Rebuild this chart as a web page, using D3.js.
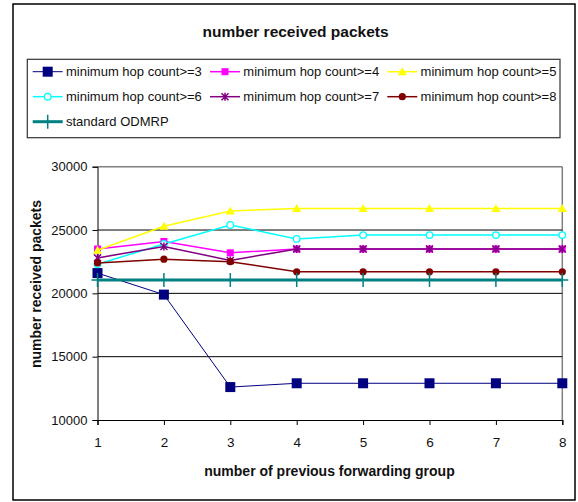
<!DOCTYPE html>
<html>
<head>
<meta charset="utf-8">
<script src="https://cdn.jsdelivr.net/npm/d3@7"></script>
<style>
  html, body { margin: 0; padding: 0; background: #fff; }
  svg { display: block; font-family: "Liberation Sans", Arial, sans-serif; }
</style>
</head>
<body>
<svg id="chart" width="578" height="502"></svg>
<script>
// ---- data ----
const xValues = [1, 2, 3, 4, 5, 6, 7, 8];
const yTicks = [10000, 15000, 20000, 25000, 30000];
const seriesNames = [
  "minimum hop count>=3", "minimum hop count>=4", "minimum hop count>=5",
  "minimum hop count>=6", "minimum hop count>=7", "minimum hop count>=8",
  "standard ODMRP"
];
const hop3 = [21600, 19900, 12600, 12900, 12900, 12900, 12900, 12900];
const hop4 = [23500, 24100, 23200, 23500, 23500, 23500, 23500, 23500];
const hop5 = [23400, 25300, 26500, 26700, 26700, 26700, 26700, 26700];
const hop6 = [22300, 23900, 25400, 24300, 24600, 24600, 24600, 24600];
const hop7 = [22800, 23700, 22600, 23500, 23500, 23500, 23500, 23500];
const hop8 = [22400, 22700, 22500, 21700, 21700, 21700, 21700, 21700];
const odmrp = [21050, 21050, 21050, 21050, 21050, 21050, 21050, 21050];
const titleText = "number received packets";
const xLabel = "number of previous forwarding group";
const yLabel = "number received packets";

// styles (kept separate from data)
const styles = [
  { color: "#000080", width: 1, marker: "bigsquare" },
  { color: "#FF00FF", width: 1.5, marker: "square" },
  { color: "#FFFF00", width: 1.5, marker: "triangle" },
  { color: "#00FFFF", width: 1.5, marker: "circle" },
  { color: "#800080", width: 1.5, marker: "star" },
  { color: "#800000", width: 1.5, marker: "dot" },
  { color: "#008080", width: 3, marker: "plus" }
];
const allValues = [hop3, hop4, hop5, hop6, hop7, hop8, odmrp];
const series = seriesNames.map((n, i) => ({ name: n, values: allValues[i], style: styles[i] }));

const svg = d3.select("#chart");

// outer frame
svg.append("rect").attr("x", 13).attr("y", 4).attr("width", 562).attr("height", 496)
  .attr("fill", "#fff").attr("stroke", "#000").attr("stroke-width", 1.5);

// title
svg.append("text").attr("x", 295.5).attr("y", 37).attr("text-anchor", "middle")
  .attr("font-weight", "bold").attr("font-size", "15.5px").attr("fill", "#111").text(titleText);

// scales
const pLeft = 97.5, pRight = 562.3, pTop = 166.7, pBottom = 420;
const x = d3.scaleLinear().domain([1, 8]).range([pLeft, pRight]);
const y = d3.scaleLinear().domain([10000, 30000]).range([pBottom, pTop]);

// plot border (gray top/right)
svg.append("line").attr("x1", pLeft).attr("x2", pRight).attr("y1", pTop).attr("y2", pTop)
  .attr("stroke", "#808080").attr("stroke-width", 1.5);
svg.append("line").attr("x1", pRight).attr("x2", pRight).attr("y1", pTop).attr("y2", pBottom)
  .attr("stroke", "#808080").attr("stroke-width", 1.5);

// gridlines
svg.append("g").selectAll("line").data(yTicks.filter(t => t > 10000 && t < 30000)).join("line")
  .attr("x1", pLeft).attr("x2", pRight).attr("y1", d => y(d)).attr("y2", d => y(d))
  .attr("stroke", "#000").attr("stroke-width", 1);

// axes
const yAxis = d3.axisLeft(y).tickValues(yTicks).tickSize(5).tickPadding(5).tickFormat(d3.format("d"));
const gy = svg.append("g").attr("transform", `translate(${pLeft},0)`).call(yAxis);
gy.selectAll("text").attr("font-size", "13px").attr("fill", "#111").attr("font-family", "Liberation Sans, Arial, sans-serif");
gy.select(".domain").attr("stroke", "#000");

const xAxis = d3.axisBottom(x).tickValues(xValues).tickSize(5).tickPadding(12).tickFormat(d3.format("d"));
const gx = svg.append("g").attr("transform", `translate(0,${pBottom})`).call(xAxis);
gx.selectAll("text").attr("font-size", "13.5px").attr("fill", "#111").attr("font-family", "Liberation Sans, Arial, sans-serif");
gx.select(".domain").attr("stroke", "#000").attr("stroke-width", 1.2);

// axis labels
svg.append("text").attr("x", 329.5).attr("y", 476).attr("text-anchor", "middle")
  .attr("font-weight", "bold").attr("font-size", "14px").attr("fill", "#111").text(xLabel);
svg.append("text").attr("transform", "translate(41,284) rotate(-90)").attr("text-anchor", "middle")
  .attr("font-weight", "bold").attr("font-size", "14px").attr("fill", "#111").text(yLabel);

// marker drawing
function drawMarker(g, type, color, cx, cy) {
  switch (type) {
    case "bigsquare":
      g.append("rect").attr("x", cx - 5).attr("y", cy - 5).attr("width", 10).attr("height", 10).attr("fill", color);
      break;
    case "square":
      g.append("rect").attr("x", cx - 3.5).attr("y", cy - 3.5).attr("width", 7).attr("height", 7).attr("fill", color);
      break;
    case "triangle":
      g.append("path").attr("d", `M${cx},${cy - 4.5}L${cx + 4.5},${cy + 3.5}L${cx - 4.5},${cy + 3.5}Z`).attr("fill", color);
      break;
    case "circle":
      g.append("circle").attr("cx", cx).attr("cy", cy).attr("r", 3.3).attr("fill", "#fff")
        .attr("stroke", color).attr("stroke-width", 1.3);
      break;
    case "star":
      g.append("path").attr("d", `M${cx - 3.5},${cy - 3.5}L${cx + 3.5},${cy + 3.5}M${cx + 3.5},${cy - 3.5}L${cx - 3.5},${cy + 3.5}M${cx},${cy - 4}L${cx},${cy + 4}`)
        .attr("stroke", color).attr("stroke-width", 1.5).attr("fill", "none");
      break;
    case "dot":
      g.append("circle").attr("cx", cx).attr("cy", cy).attr("r", 3.6).attr("fill", color);
      break;
    case "plus":
      g.append("path").attr("d", `M${cx - 6},${cy}L${cx + 6},${cy}M${cx},${cy - 7}L${cx},${cy + 7}`)
        .attr("stroke", color).attr("stroke-width", 1.5).attr("fill", "none");
      break;
  }
}

// series
const lineGen = d3.line().x((d, i) => x(xValues[i])).y(d => y(d));
series.forEach(s => {
  const g = svg.append("g");
  g.append("path").datum(s.values).attr("d", lineGen).attr("fill", "none")
    .attr("stroke", s.style.color).attr("stroke-width", s.style.width);
  s.values.forEach((v, i) => drawMarker(g, s.style.marker, s.style.color, x(xValues[i]), y(v)));
});

// legend
svg.append("rect").attr("x", 27.3).attr("y", 59.3).attr("width", 532.7).attr("height", 78.4)
  .attr("fill", "#fff").attr("stroke", "#333").attr("stroke-width", 1.2);
const colX = [32.7, 210, 387.3];
const rowY = [71.7, 96.7, 121.7];
series.forEach((s, i) => {
  const cx = colX[i % 3], cy = rowY[Math.floor(i / 3)];
  const g = svg.append("g");
  g.append("line").attr("x1", cx).attr("x2", cx + 30).attr("y1", cy).attr("y2", cy)
    .attr("stroke", s.style.color).attr("stroke-width", s.style.width);
  drawMarker(g, s.style.marker, s.style.color, cx + 15, cy);
  g.append("text").attr("x", cx + 33.3).attr("y", cy + 4.7).attr("font-size", "13px").attr("fill", "#111").text(s.name);
});
</script>
</body>
</html>
